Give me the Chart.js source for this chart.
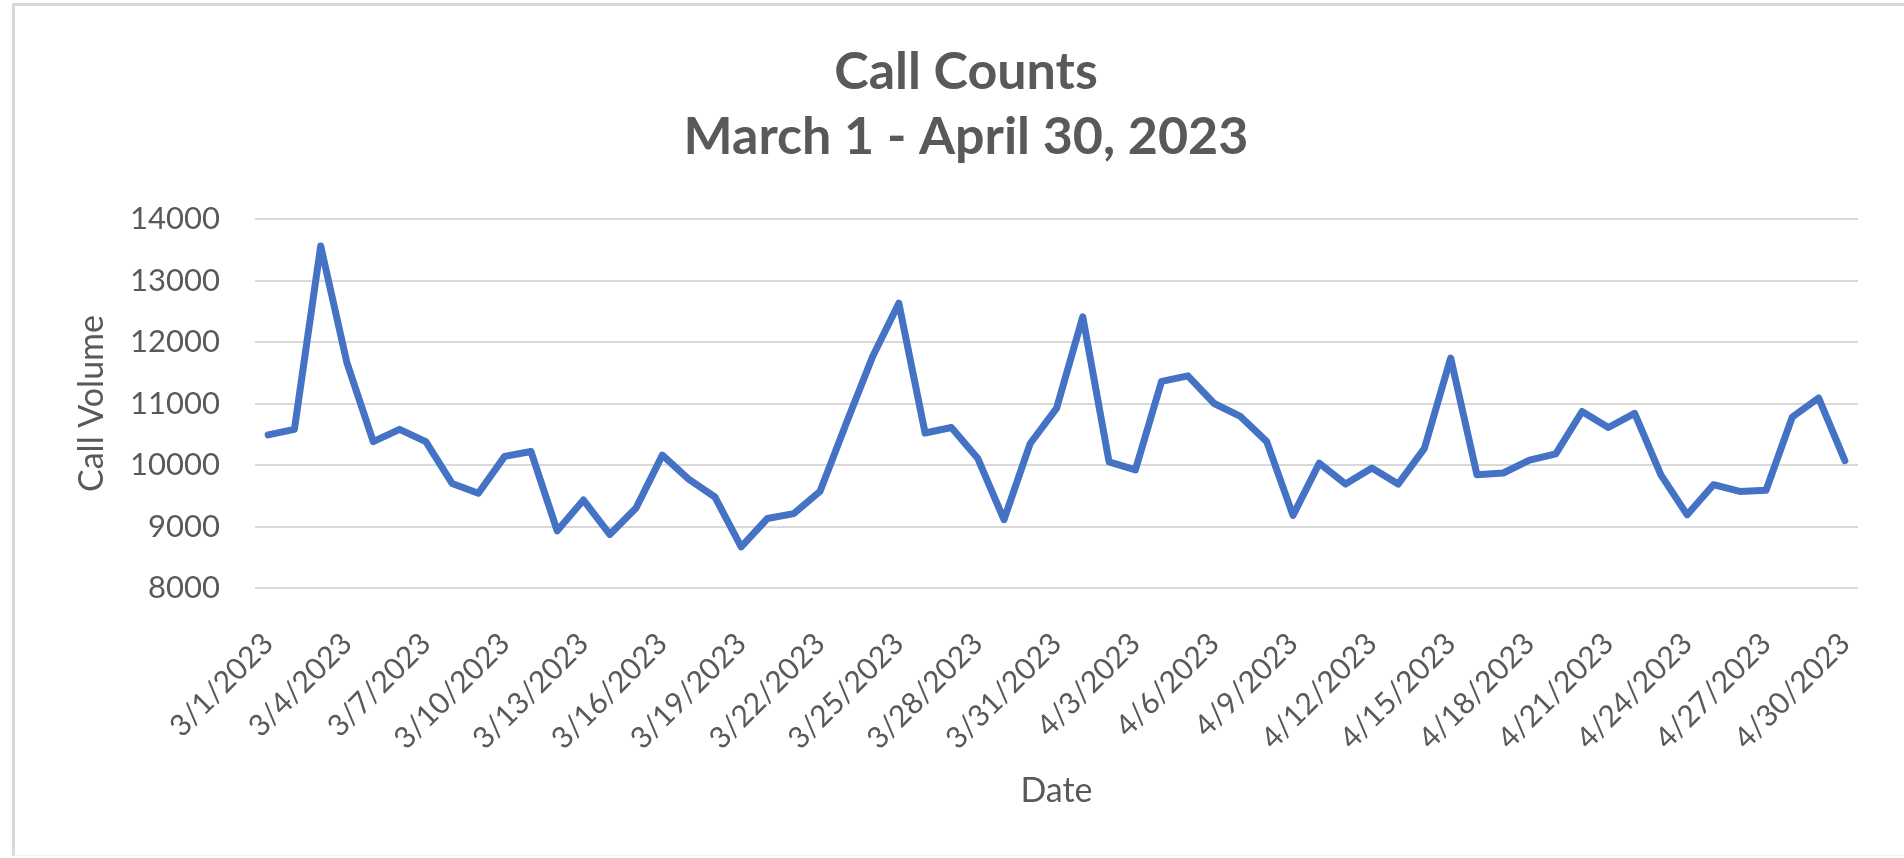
<!DOCTYPE html>
<html>
<head>
<meta charset="utf-8">
<script src="https://cdn.jsdelivr.net/npm/chart.js@4.4.1/dist/chart.umd.min.js"></script>
<style>
  html, body { margin: 0; padding: 0; background: #ffffff; overflow: hidden; }
  #frame { position: absolute; left: 12px; top: 3px; width: 1900px; height: 853px;
           border-left: 3px solid #d9d9d9; border-top: 3px solid #d9d9d9; border-bottom: 1px solid #f0f0f0; box-sizing: border-box; }
  #wrap { position: absolute; left: 0; top: 0; width: 1904px; height: 858px; }
</style>
</head>
<body>
<div id="frame"></div>
<div id="wrap"><canvas id="c" width="1904" height="858"></canvas></div>
<script>
const dates = [
  "3/1/2023","3/2/2023","3/3/2023","3/4/2023","3/5/2023","3/6/2023","3/7/2023","3/8/2023","3/9/2023","3/10/2023",
  "3/11/2023","3/12/2023","3/13/2023","3/14/2023","3/15/2023","3/16/2023","3/17/2023","3/18/2023","3/19/2023","3/20/2023",
  "3/21/2023","3/22/2023","3/23/2023","3/24/2023","3/25/2023","3/26/2023","3/27/2023","3/28/2023","3/29/2023","3/30/2023",
  "3/31/2023","4/1/2023","4/2/2023","4/3/2023","4/4/2023","4/5/2023","4/6/2023","4/7/2023","4/8/2023","4/9/2023",
  "4/10/2023","4/11/2023","4/12/2023","4/13/2023","4/14/2023","4/15/2023","4/16/2023","4/17/2023","4/18/2023","4/19/2023",
  "4/20/2023","4/21/2023","4/22/2023","4/23/2023","4/24/2023","4/25/2023","4/26/2023","4/27/2023","4/28/2023","4/29/2023",
  "4/30/2023"
];
const callVolume = [
  10490, 10580, 13560, 11660, 10380, 10580, 10380, 9700, 9540, 10140,
  10220, 8930, 9430, 8870, 9300, 10160, 9770, 9480, 8670, 9130,
  9210, 9570, 10680, 11760, 12630, 10520, 10610, 10110, 9110, 10350,
  10920, 12410, 10050, 9920, 11360, 11450, 11000, 10790, 10380, 9180,
  10030, 9690, 9950, 9690, 10270, 11740, 9840, 9870, 10080, 10180,
  10870, 10610, 10840, 9840, 9190, 9680, 9570, 9590, 10780, 11090,
  10070
];
const titleLines = ["Call Counts", "March 1 - April 30, 2023"];
const yTitle = "Call Volume";
const xTitle = "Date";
const yMin = 8000, yMax = 14000, yStep = 1000;

const FONT = "Lato, 'Open Sans', sans-serif";
const GREY = "#595959";

new Chart(document.getElementById('c'), {
  type: 'line',
  data: {
    labels: dates,
    datasets: [{
      label: yTitle,
      data: callVolume,
      borderColor: '#4472C4',
      backgroundColor: '#4472C4',
      borderWidth: 7,
      pointRadius: 0,
      tension: 0,
      borderJoinStyle: 'round',
      borderCapStyle: 'round'
    }]
  },
  options: {
    responsive: false,
    animation: false,
    layout: { padding: { left: 74, right: 46, top: 0, bottom: 0 } },
    plugins: {
      legend: { display: false },
      tooltip: { enabled: false },
      title: {
        display: true,
        text: titleLines,
        color: GREY,
        font: { family: FONT, size: 52, weight: 'bold', lineHeight: 65/52 },
        padding: { top: 40, bottom: 49 }
      }
    },
    scales: {
      x: {
        offset: true,
        grid: { display: false },
        border: { display: false },
        ticks: {
          autoSkip: false,
          maxRotation: 45,
          minRotation: 45,
          padding: 30,
          color: GREY,
          font: { family: FONT, size: 30 },
          callback: function(v, i) { return i % 3 === 0 ? dates[i] : ''; }
        },
        title: {
          display: true,
          text: xTitle,
          color: GREY,
          font: { family: FONT, size: 34 },
          padding: { top: 0, bottom: 47 }
        },
        afterFit: function(s) { s.height = 270; }
      },
      y: {
        min: yMin,
        max: yMax,
        grid: { color: '#d9d9d9', lineWidth: 2, drawTicks: false },
        border: { display: false },
        ticks: {
          stepSize: yStep,
          padding: 35,
          color: GREY,
          font: { family: FONT, size: 31 },
          callback: function(v) { return String(v); }
        },
        title: {
          display: true,
          text: yTitle,
          color: GREY,
          font: { family: FONT, size: 34, lineHeight: 1.0 },
          padding: { top: 1, bottom: 0 }
        },
        afterFit: function(s) { s.width = 181; }
      }
    }
  }
});
</script>
</body>
</html>
